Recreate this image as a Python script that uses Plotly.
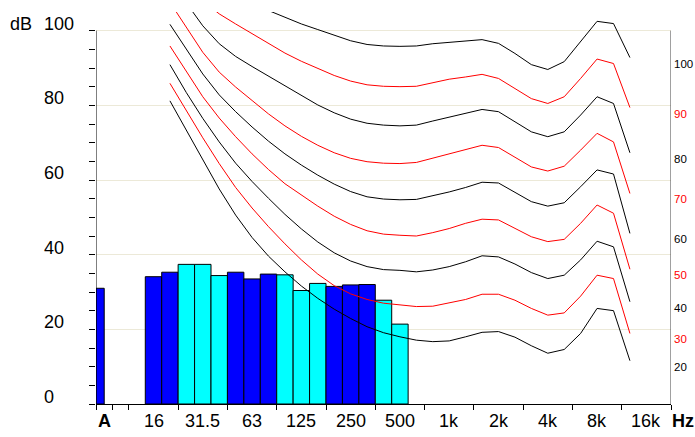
import plotly.graph_objects as go

# ---------------- data ----------------
BANDS = ["12.5", "16", "20", "25", "31.5", "40", "50", "63", "80", "100", "125", "160",
         "200", "250", "315", "400", "500", "630", "800", "1k", "1.25k", "1.6k", "2k",
         "2.5k", "3.15k", "4k", "5k", "6.3k", "8k", "10k", "12.5k", "16k", "20k"]
OCTAVE_LABELS = ["16", "31.5", "63", "125", "250", "500", "1k", "2k", "4k", "8k", "16k"]
Y_TICKS = [0, 20, 40, 60, 80, 100]

A_LEVEL = 31.0
BAR_BANDS = ["16", "20", "25", "31.5", "40", "50", "63", "80", "100", "125", "160",
             "200", "250", "315", "400", "500"]
BAR_LEVELS = [34.1, 35.3, 37.4, 37.4, 34.4, 35.3, 33.5, 34.8, 34.6, 30.4, 32.3,
              31.5, 31.9, 32.0, 27.8, 21.4]
BAR_KIND = ["b", "b", "c", "c", "c", "b", "b", "b", "c", "c", "c", "b", "b", "b", "c", "c"]

CURVE_BANDS = BANDS[2:31]   # 20 Hz .. 12.5 kHz
PHON = [20, 30, 40, 50, 60, 70, 80, 90, 100]
C20 = [81.2, 73.2, 65.3, 57.6, 50.6, 44.6, 39.6, 35.4, 31.6, 28.3, 25.4, 22.9, 20.7, 19.1, 18.0,
       17.1, 16.7, 16.9, 18.0, 19.2, 19.4, 17.9, 15.6, 13.6, 14.6, 18.9, 25.6, 25.0, 11.6]
C30 = [85.9, 78.5, 71.3, 64.4, 58.0, 52.5, 47.5, 42.9, 38.6, 34.8, 31.7, 29.5, 28.0, 27.0, 26.5,
       26.1, 26.2, 27.0, 28.0, 29.4, 29.4, 27.8, 25.6, 23.8, 24.4, 28.9, 34.5, 33.6, 18.9]
C40 = [90.9, 83.4, 76.5, 70.2, 64.5, 59.6, 55.1, 50.8, 46.9, 43.4, 40.5, 38.3, 36.8, 36.0, 35.8,
       35.4, 35.9, 36.8, 38.1, 39.7, 39.4, 37.5, 35.2, 33.6, 34.5, 38.6, 43.6, 42.1, 27.4]
C50 = [95.9, 89.0, 82.3, 76.6, 71.6, 67.0, 62.8, 59.0, 56.0, 53.0, 50.3, 48.1, 46.4, 45.5, 45.2,
       45.0, 45.9, 47.0, 48.4, 49.5, 49.3, 47.0, 44.8, 43.5, 44.1, 48.4, 53.3, 51.1, 36.1]
C60 = [101.7, 94.9, 88.4, 82.8, 78.3, 74.2, 70.4, 67.0, 64.0, 61.3, 58.9, 56.9, 55.5, 54.9, 54.7,
       54.8, 55.7, 56.8, 58.0, 59.4, 59.2, 56.8, 54.2, 53.0, 53.9, 58.2, 62.7, 61.6, 45.7]
C70 = [107.6, 100.8, 94.2, 88.9, 84.9, 81.3, 77.7, 74.5, 71.7, 69.3, 67.3, 65.8, 64.9, 64.5, 64.4,
       64.7, 65.8, 66.9, 68.2, 69.3, 68.7, 66.2, 63.5, 62.4, 63.7, 68.0, 72.5, 70.2, 56.4]
C80 = [113.5, 107.3, 101.3, 96.5, 93.1, 90.4, 87.8, 85.1, 82.5, 80.1, 78.0, 76.3, 75.2, 74.7, 74.5,
       74.7, 75.8, 76.9, 77.8, 78.9, 78.3, 75.6, 72.9, 71.6, 72.9, 77.4, 82.3, 80.5, 67.3]
C90 = [118.0, 112.5, 108.0, 104.5, 101.8, 99.2, 96.5, 94.0, 91.8, 89.8, 88.0, 86.5, 85.5, 85.1, 85.0,
       85.1, 86.0, 87.0, 87.6, 88.3, 87.2, 84.5, 81.8, 80.5, 82.3, 87.2, 92.4, 91.2, 79.4]
C100 = [123.0, 119.0, 115.5, 112.5, 110.0, 107.6, 105.4, 103.5, 101.8, 100.3, 98.8, 97.3, 96.3, 95.9, 95.8,
        95.9, 96.5, 96.9, 97.3, 97.6, 96.6, 93.9, 90.9, 89.6, 91.7, 97.0, 102.5, 101.9, 92.8]
CURVES = [C20, C30, C40, C50, C60, C70, C80, C90, C100]

# ---------------- helpers ----------------
FONT = "Liberation Sans, Arial, sans-serif"
BLUE, CYAN = "#0000FF", "#00FFFF"


def slot(band):
    # slot 0 = "A", slot 1 = blank, then one slot per third-octave band
    return BANDS.index(band) + 2


def center(band):
    return slot(band) + 0.5


fig = go.Figure()

# bars: A-weighted total + third-octave bands
bx = [0.25] + [center(b) for b in BAR_BANDS]
by = [A_LEVEL] + BAR_LEVELS
bw = [0.5] + [1.0] * len(BAR_BANDS)
bc = [BLUE] + [BLUE if k == "b" else CYAN for k in BAR_KIND]
fig.add_trace(go.Bar(x=bx, y=by, width=bw, marker=dict(color=bc, line=dict(color="black", width=1)),
                     hoverinfo="skip"))

# equal-loudness contours
cx = [center(b) for b in CURVE_BANDS]
for ph, vals in zip(PHON, CURVES):
    col = "#000000" if ph % 20 == 0 else "#FF0000"
    fig.add_trace(go.Scatter(x=cx, y=vals, mode="lines", line=dict(color=col, width=1),
                             hoverinfo="skip"))

# tick boundaries
ticks = {0, 1, 2}
for lab in OCTAVE_LABELS:
    ticks.add(slot(lab) - 1)
    ticks.add(slot(lab) + 2)
ticks = sorted(t for t in ticks if t <= 35)

annotations = []
# x labels
annotations.append(dict(x=0.5, y=0, xref="x", yref="paper", text="<b>A</b>", showarrow=False,
                        yanchor="middle", yshift=-17, font=dict(size=18, color="black", family=FONT)))
for lab in OCTAVE_LABELS:
    annotations.append(dict(x=center(lab), y=0, xref="x", yref="paper", text=lab, showarrow=False,
                            yanchor="middle", yshift=-17, font=dict(size=18, color="black", family=FONT)))
annotations.append(dict(x=35, y=0, xref="x", yref="paper", text="<b>Hz</b>", showarrow=False,
                        xanchor="left", xshift=-1, yanchor="middle", yshift=-17,
                        font=dict(size=18, color="black", family=FONT)))
# y labels (left aligned)
for v in Y_TICKS:
    annotations.append(dict(x=0, y=v, xref="paper", yref="y", text=str(v), showarrow=False,
                            xanchor="left", xshift=-54, yanchor="middle", yshift=7,
                            font=dict(size=18, color="black", family=FONT)))
annotations.append(dict(x=0, y=100, xref="paper", yref="y", text="dB", showarrow=False,
                        xanchor="left", xshift=-88, yanchor="middle", yshift=7,
                        font=dict(size=18, color="black", family=FONT)))
# phon labels on the right
for ph, vals in zip(PHON, CURVES):
    col = "#000000" if ph % 20 == 0 else "#FF0000"
    annotations.append(dict(x=35, y=vals[-1] - 1.6, xref="x", yref="y", text=str(ph), showarrow=False,
                            xanchor="left", xshift=1, yanchor="middle",
                            font=dict(size=11.5, color=col, family=FONT)))

shapes = [
    dict(type="line", xref="x", yref="y", x0=0, x1=0, y0=0, y1=100, line=dict(color="black", width=1)),
    dict(type="line", xref="x", yref="y", x0=35, x1=35, y0=0, y1=100, line=dict(color="#404040", width=1)),
]

fig.update_layout(
    width=695, height=437,
    margin=dict(l=96, r=24, t=12, b=33),
    plot_bgcolor="white", paper_bgcolor="white",
    showlegend=False, bargap=0,
    annotations=annotations, shapes=shapes,
    xaxis=dict(range=[0, 35], tickvals=ticks, ticktext=[""] * len(ticks), ticks="outside",
               ticklen=5, tickcolor="black", showgrid=False, zeroline=False,
               showline=True, linecolor="black", linewidth=1),
    yaxis=dict(range=[0, 105], tickvals=Y_TICKS, ticktext=[""] * len(Y_TICKS), ticks="outside",
               ticklen=12, tickcolor="black", showgrid=True, gridcolor="#ECE9D8", gridwidth=1,
               zeroline=False, showline=False,
               minor=dict(tickvals=list(range(0, 101, 5)), ticks="outside", ticklen=6,
                          tickcolor="black", showgrid=False)),
)

fig.write_html("out.html", config={"displayModeBar": False, "staticPlot": True},
               post_script="document.body.style.margin='0';document.body.style.overflow='hidden';")
